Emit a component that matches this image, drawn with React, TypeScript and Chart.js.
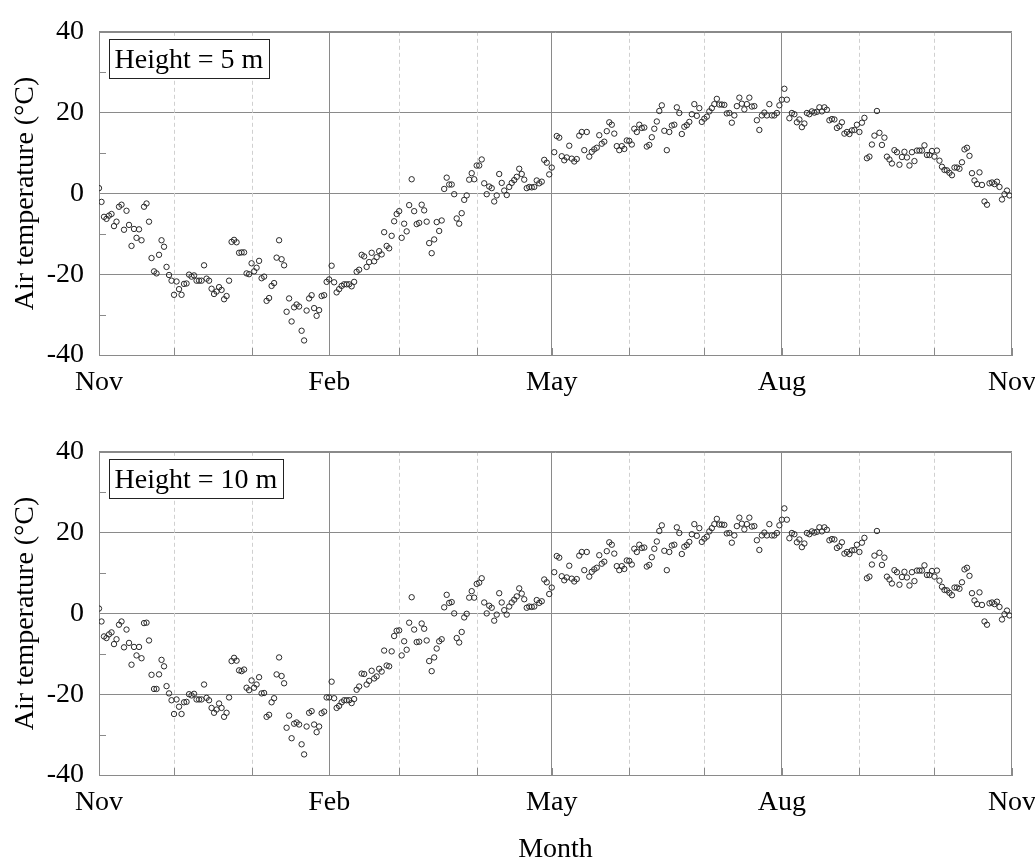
import React, { useEffect, useRef } from "react";
import { Chart, registerables } from "chart.js";

Chart.register(...registerables);

// ---- axis / tick data ----
const monthStartDays = [0, 30, 61, 92, 120, 151, 181, 212, 242, 273, 304, 334, 365];
const majorDays = [0, 92, 181, 273, 365];
const majorLabels = ["Nov", "Feb", "May", "Aug", "Nov"];
const minorDays = [30, 61, 120, 151, 212, 242, 304, 334];
const yMinorTicks = [-30, -10, 10, 30];

// ---- daily air temperature (°C), day 0 = 1 Nov ----
const temp5m: number[] = [
  // Nov
  1.3, -2.1, -5.8, -6.3, -5.5, -5.1, -8.1, -7, -3.3, -2.8,
  -9, -4.3, -7.8, -13, -8.8, -11, -8.9, -11.6, -3.3, -2.5,
  -7, -16, -19.3, -19.8, -15.2, -11.6, -13.2, -18.2, -20.2, -21.6,
  // Dec
  -25.1, -21.8, -23.7, -25.1, -22.4, -22.3, -20.1, -20.6, -20.3, -21.6,
  -21.6, -21.6, -17.8, -21.1, -21.6, -23.6, -24.9, -24.3, -23.2, -23.9,
  -26.2, -25.4, -21.6, -12, -11.5, -12.1, -14.7, -14.6, -14.6, -19.8,
  -20,
  // Jan
  -17.3, -19.3, -18.4, -16.7, -21, -20.6, -26.6, -25.9, -22.9, -22.2,
  -15.9, -11.6, -16.3, -17.8, -29.3, -26, -31.7, -28.2, -27.5, -28,
  -34, -36.4, -29, -26, -25.2, -28.4, -30.3, -28.9, -25.4, -25.2,
  -21.9,
  // Feb
  -21.3, -17.9, -22, -24.5, -23.7, -22.9, -22.5, -22.5, -22.5, -23,
  -21.9, -19.4, -18.9, -15.2, -15.6, -18.2, -17, -14.7, -16.8, -15.8,
  -14.3, -15.1, -9.6, -13, -13.6, -10.5, -6.9, -5.1,
  // Mar
  -4.4, -11, -7.5, -9.4, -2.9, 3.5, -4.4, -7.6, -7.3, -2.8,
  -4.2, -7, -12.3, -14.8, -11.4, -7.1, -9.3, -6.7, 1.1, 3.9,
  2.2, 2.2, -0.2, -6.2, -7.5, -4.9, -1.6, -0.5, 3.4, 5,
  3.5,
  // Apr
  6.9, 6.9, 8.4, 2.5, -0.2, 1.7, 1.3, -2, -0.5, 4.8,
  2.6, 0.7, -0.4, 1.6, 2.6, 3.3, 4.1, 6.1, 4.8, 3.4,
  1.3, 1.6, 1.5, 1.6, 3.2, 2.5, 2.9, 8.3, 7.6, 4.7,
  // May
  6.4, 10.2, 14.2, 13.8, 9.2, 8.2, 8.9, 11.8, 8.6, 7.9,
  8.5, 14.3, 15.2, 10.7, 15.2, 9.1, 10.3, 10.9, 11.3, 14.4,
  12.3, 12.8, 15.4, 17.6, 17, 14.8, 11.7, 10.7, 11.7, 11,
  13.1,
  // Jun
  13, 12.1, 16, 15.2, 17, 16.2, 16.3, 11.6, 12, 13.9,
  16, 17.8, 20.4, 21.8, 15.5, 10.7, 15.2, 16.8, 17, 21.3,
  19.9, 14.7, 16.5, 16.9, 17.7, 19.6, 22.1, 19.2, 21.1, 17.7,
  // Jul
  18.5, 19, 20.3, 21.1, 22.1, 23.4, 22, 22, 21.9, 19.8,
  19.9, 17.5, 19.3, 21.6, 23.7, 22.2, 20.8, 22.1, 23.7, 21.5,
  21.6, 18.1, 15.7, 19.3, 20, 19.3, 22.1, 19.3, 19.3, 19.9,
  21.8,
  // Aug
  23.2, 25.9, 23.2, 18.6, 19.9, 19.6, 17.6, 18.3, 16.4, 17.3,
  19.9, 19.6, 20.3, 20, 20.2, 21.3, 20.3, 21.3, 20.7, 18.1,
  18.4, 18.3, 16.2, 16.6, 17.6, 14.8, 15.2, 14.7, 15.6, 15.7,
  17,
  // Sep
  15.2, 17.5, 18.7, 8.7, 9.1, 12.1, 14.3, 20.4, 15, 12,
  13.8, 9.1, 8.4, 7.4, 10.7, 10.2, 7.1, 9, 10.3, 8.9,
  6.9, 10.2, 8, 10.6, 10.6, 10.6, 11.9, 9.5, 9.5, 10.5,
  // Oct
  9.1, 10.6, 8.1, 6.6, 5.8, 5.7, 5.1, 4.5, 6.4, 6.4,
  6.1, 7.7, 10.9, 11.3, 9.3, 5, 3.2, 2.3, 5.2, 2.1,
  -2, -2.8, 2.5, 2.7, 2.3, 2.9, 1.6, -1.5, -0.2, 0.7,
  -0.5,
];

const temp10m: number[] = [
  // Nov
  1.2, -2, -5.7, -6.1, -5.2, -4.7, -7.6, -6.4, -2.8, -2,
  -8.4, -4, -7.3, -12.7, -8.3, -10.4, -8.3, -11.1, -2.4, -2.3,
  -6.7, -15.2, -18.7, -18.7, -15.1, -11.5, -13.1, -18, -19.8, -21.5,
  // Dec
  -24.9, -21.3, -23.1, -24.9, -22, -21.9, -20, -20.3, -19.9, -21.3,
  -21.3, -21.3, -17.6, -20.9, -21.5, -23.4, -24.6, -23.8, -22.3, -23.4,
  -25.6, -24.6, -20.8, -11.8, -11, -11.7, -14.1, -14.3, -13.9, -18.4,
  -19,
  // Jan
  -16.6, -18.4, -17.6, -15.8, -19.8, -19.7, -25.6, -25.1, -22, -21,
  -15.1, -10.9, -15.5, -17.3, -28.3, -25.3, -30.9, -27.3, -27, -27.5,
  -32.4, -34.9, -28, -24.6, -24.2, -27.5, -29.4, -28, -24.7, -24.3,
  -20.8,
  // Feb
  -20.8, -16.9, -21, -23.4, -22.9, -22, -21.5, -21.5, -21.5, -22.2,
  -21.2, -18.9, -18.1, -14.9, -15, -17.6, -16.7, -14.2, -16.1, -15.6,
  -13.7, -14.4, -9.2, -12.9, -13.1, -9.4, -5.6, -4.3,
  // Mar
  -4.2, -10.4, -6.9, -9, -2.3, 4, -4, -7.1, -7, -2.5,
  -3.8, -6.7, -11.8, -14.3, -10.9, -8.7, -6.9, -6.4, 1.5, 4.6,
  2.6, 2.8, 0, -6.1, -7.2, -4.6, -1, -0.1, 3.9, 5.5,
  3.9,
  // Apr
  7.3, 7.6, 8.7, 2.7, 0, 1.9, 1.4, -1.8, -0.3, 5,
  2.7, 0.8, -0.3, 1.7, 2.7, 3.4, 4.2, 6.2, 4.9, 3.5,
  1.4, 1.7, 1.6, 1.7, 3.3, 2.6, 3, 8.4, 7.7, 4.8,
  // May
  6.4, 10.2, 14.2, 13.8, 9.2, 8.2, 8.9, 11.8, 8.6, 7.9,
  8.5, 14.3, 15.2, 10.7, 15.2, 9.1, 10.3, 10.9, 11.3, 14.4,
  12.3, 12.8, 15.4, 17.6, 17, 14.8, 11.7, 10.7, 11.7, 11,
  13.1,
  // Jun
  13, 12.1, 16, 15.2, 17, 16.2, 16.3, 11.6, 12, 13.9,
  16, 17.8, 20.4, 21.8, 15.5, 10.7, 15.2, 16.8, 17, 21.3,
  19.9, 14.7, 16.5, 16.9, 17.7, 19.6, 22.1, 19.2, 21.1, 17.7,
  // Jul
  18.5, 19, 20.3, 21.1, 22.1, 23.4, 22, 22, 21.9, 19.8,
  19.9, 17.5, 19.3, 21.6, 23.7, 22.2, 20.8, 22.1, 23.7, 21.5,
  21.6, 18.1, 15.7, 19.3, 20, 19.3, 22.1, 19.3, 19.3, 19.9,
  21.8,
  // Aug
  23.2, 26, 23.2, 18.6, 19.9, 19.6, 17.6, 18.3, 16.4, 17.3,
  19.9, 19.6, 20.3, 20, 20.2, 21.3, 20.3, 21.3, 20.7, 18.1,
  18.4, 18.3, 16.2, 16.6, 17.6, 14.8, 15.2, 14.7, 15.6, 15.7,
  17,
  // Sep
  15.2, 17.5, 18.7, 8.7, 9.1, 12.1, 14.3, 20.4, 15, 12,
  13.8, 9.1, 8.4, 7.4, 10.7, 10.2, 7.1, 9, 10.3, 8.9,
  6.9, 10.2, 8, 10.6, 10.6, 10.6, 11.9, 9.5, 9.5, 10.5,
  // Oct
  9.1, 10.6, 8.1, 6.6, 5.8, 5.7, 5.1, 4.5, 6.4, 6.4,
  6.1, 7.7, 10.9, 11.3, 9.3, 5, 3.2, 2.3, 5.2, 2.1,
  -2, -2.8, 2.5, 2.7, 2.3, 2.9, 1.6, -1.5, -0.2, 0.7,
  -0.5,
];

// ---- styling ----
const FONT_FAMILY = '"Liberation Serif", "Times New Roman", serif';
const FONT_SIZE = 28;
const AXIS_COLOR = "#8a8a8a";
const MINOR_GRID = "#d0d0d0";
const MARKER_COLOR = "#2a2a2a";

function makePlugin(boxText: string) {
  return {
    id: "decor",
    beforeDatasetsDraw(chart: any) {
      const { ctx, chartArea: a, scales } = chart;
      const xs = scales.x;
      const ys = scales.y;
      ctx.save();
      // dashed minor month lines
      ctx.strokeStyle = MINOR_GRID;
      ctx.lineWidth = 1;
      ctx.setLineDash([4, 3]);
      minorDays.forEach((d) => {
        const px = Math.round(xs.getPixelForValue(d)) + 0.5;
        ctx.beginPath();
        ctx.moveTo(px, a.top);
        ctx.lineTo(px, a.bottom);
        ctx.stroke();
      });
      ctx.setLineDash([]);
      ctx.strokeStyle = AXIS_COLOR;
      // inward month ticks on bottom axis
      monthStartDays.forEach((d) => {
        const px = Math.round(xs.getPixelForValue(d)) + 0.5;
        ctx.beginPath();
        ctx.moveTo(px, a.bottom);
        ctx.lineTo(px, a.bottom - 7);
        ctx.stroke();
      });
      // inward minor ticks on y axis
      yMinorTicks.forEach((v) => {
        const py = Math.round(ys.getPixelForValue(v)) + 0.5;
        ctx.beginPath();
        ctx.moveTo(a.left, py);
        ctx.lineTo(a.left + 7, py);
        ctx.stroke();
      });
      // top and right frame
      const t = Math.round(a.top) + 0.5;
      const r = Math.round(a.right) - 0.5;
      ctx.beginPath();
      ctx.moveTo(a.left, t);
      ctx.lineTo(r, t);
      ctx.lineTo(r, a.bottom);
      ctx.stroke();
      ctx.restore();
    },
    afterDraw(chart: any) {
      const { ctx, chartArea: a } = chart;
      ctx.save();
      ctx.font = `${FONT_SIZE}px ${FONT_FAMILY}`;
      const w = ctx.measureText(boxText).width;
      const bx = Math.round(a.left + 9.5) + 0.5;
      const by = Math.round(a.top + 7.5) + 0.5;
      const bw = Math.round(w + 11);
      const bh = 39;
      ctx.fillStyle = "#ffffff";
      ctx.fillRect(bx, by, bw, bh);
      ctx.strokeStyle = "#222";
      ctx.lineWidth = 1;
      ctx.strokeRect(bx, by, bw, bh);
      ctx.fillStyle = "#000";
      ctx.textBaseline = "alphabetic";
      ctx.fillText(boxText, bx + 5, by + 28.5);
      ctx.restore();
    },
  };
}

function makeConfig(values: number[], boxText: string, showXTitle: boolean, xHeight: number): any {
  const font = { family: FONT_FAMILY, size: FONT_SIZE };
  return {
    type: "scatter",
    data: {
      datasets: [
        {
          label: boxText,
          data: values.map((v, i) => ({ x: i, y: v })),
          pointStyle: "circle",
          pointRadius: 2.7,
          pointBorderWidth: 1,
          borderColor: MARKER_COLOR,
          backgroundColor: "rgba(0,0,0,0)",
          pointBackgroundColor: "rgba(0,0,0,0)",
          pointBorderColor: MARKER_COLOR,
        },
      ],
    },
    options: {
      responsive: false,
      animation: false,
      events: [],
      layout: { padding: { top: 29, right: 23, left: 0, bottom: 0 } },
      plugins: { legend: { display: false }, tooltip: { enabled: false } },
      scales: {
        x: {
          type: "linear",
          min: 0,
          max: 365,
          afterBuildTicks: (scale: any) => {
            scale.ticks = monthStartDays.map((v) => ({ value: v }));
          },
          afterFit: (scale: any) => {
            scale.height = xHeight;
            scale.paddingLeft = 0;
            scale.paddingRight = 0;
          },
          ticks: {
            autoSkip: false,
            maxRotation: 0,
            padding: 11,
            color: "#000",
            font,
            callback: (v: number) => {
              const idx = majorDays.indexOf(v);
              return idx >= 0 ? majorLabels[idx] : "";
            },
          },
          grid: {
            drawTicks: false,
            lineWidth: 1,
            color: (c: any) => {
              const v = c.tick ? c.tick.value : -1;
              return v === 92 || v === 181 || v === 273 ? AXIS_COLOR : "rgba(0,0,0,0)";
            },
          },
          border: { display: true, color: AXIS_COLOR, width: 1 },
          title: {
            display: showXTitle,
            text: "Month",
            color: "#000",
            font,
            padding: { top: 0, bottom: -5 },
          },
        },
        y: {
          min: -40,
          max: 40,
          afterFit: (scale: any) => {
            scale.width = 99;
          },
          ticks: { stepSize: 20, padding: 15, color: "#000", font },
          grid: { drawTicks: false, color: AXIS_COLOR, lineWidth: 1 },
          border: { display: true, color: AXIS_COLOR, width: 1 },
          title: {
            display: true,
            text: "Air temperature (°C)",
            color: "#000",
            font,
            padding: { top: 9, bottom: 0 },
          },
        },
      },
    },
    plugins: [makePlugin(boxText)],
  };
}

function Panel(props: { values: number[]; boxText: string; showXTitle: boolean; height: number; xHeight: number }) {
  const ref = useRef<HTMLCanvasElement | null>(null);
  useEffect(() => {
    if (!ref.current) return;
    const chart = new Chart(ref.current, makeConfig(props.values, props.boxText, props.showXTitle, props.xHeight));
    return () => chart.destroy();
  }, []);
  return (
    <canvas
      ref={ref}
      width={1035}
      height={props.height}
      style={{ display: "block", width: 1035, height: props.height }}
    />
  );
}

export default function App() {
  return (
    <div style={{ position: "absolute", left: 0, top: 0, width: 1035, height: 861, background: "#fff", overflow: "hidden" }}>
      <Panel values={temp5m} boxText="Height = 5 m" showXTitle={false} height={420} xHeight={65} />
      <Panel values={temp10m} boxText="Height = 10 m" showXTitle={true} height={441} xHeight={86} />
    </div>
  );
}
